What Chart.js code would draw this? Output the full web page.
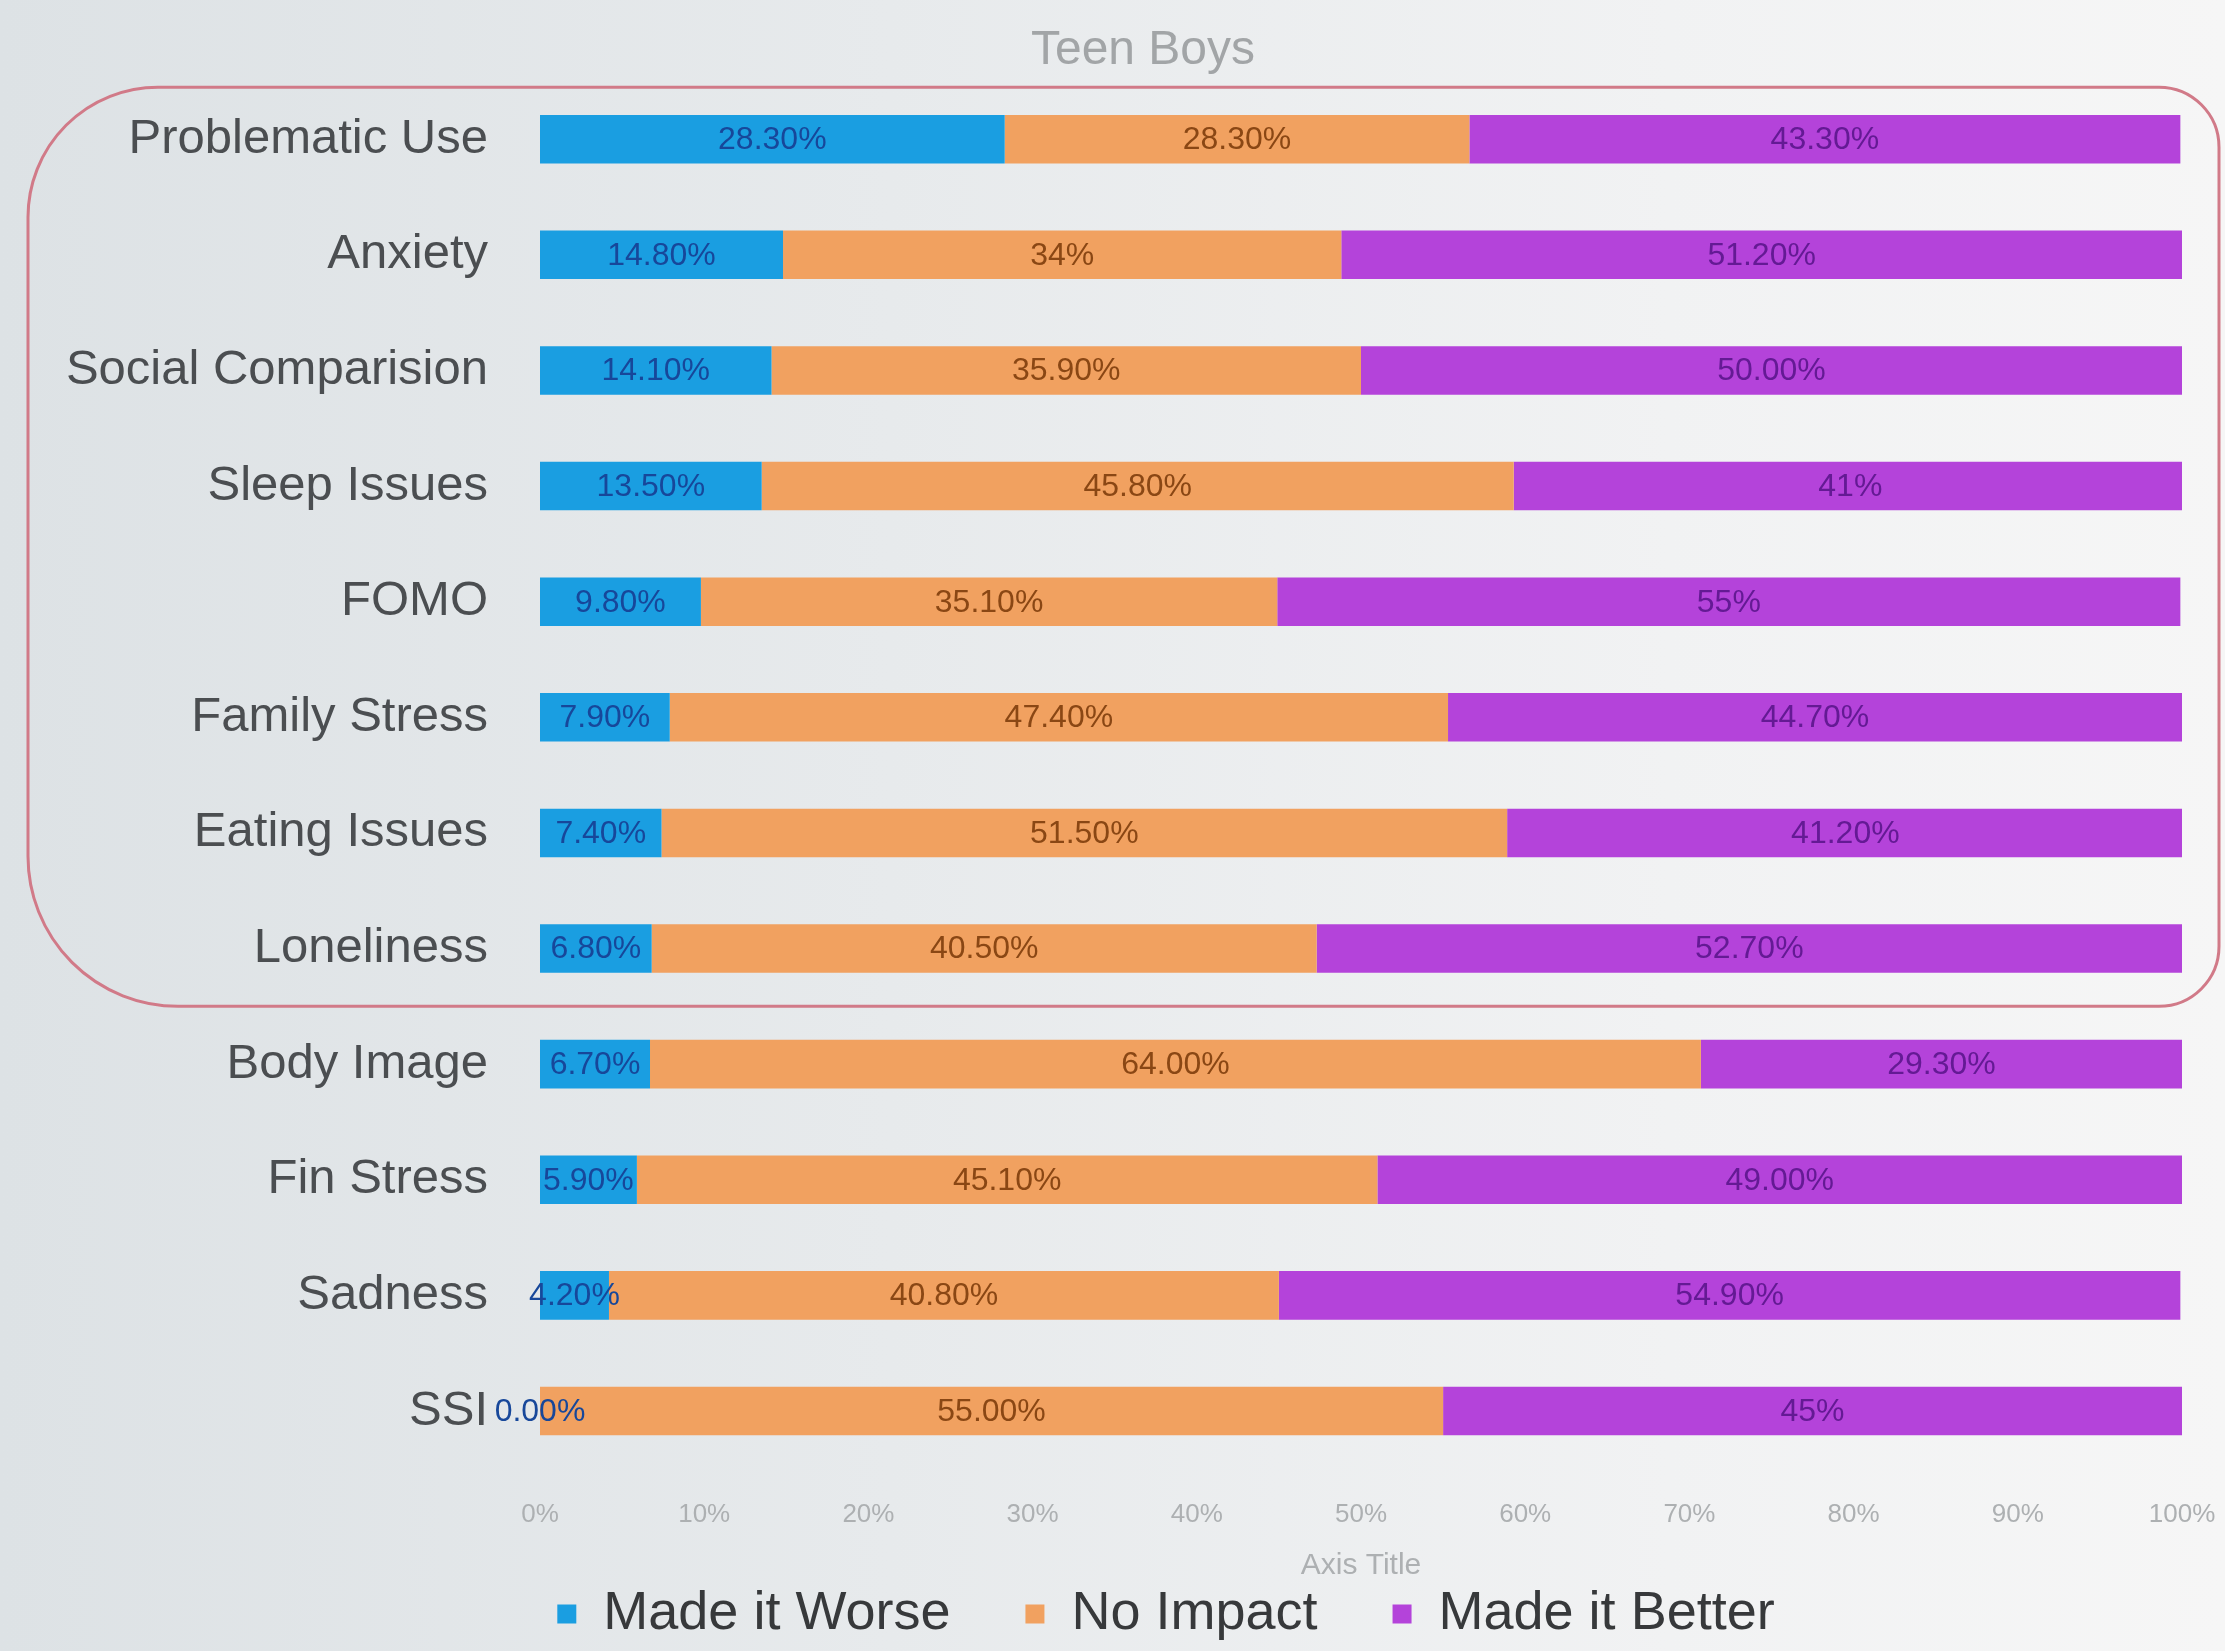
<!DOCTYPE html>
<html>
<head>
<meta charset="utf-8">
<script src="https://cdn.jsdelivr.net/npm/chart.js@4/dist/chart.umd.min.js"></script>
<style>
  html, body { margin: 0; padding: 0; }
  body { width: 2225px; height: 1651px; background: linear-gradient(90deg, #dde2e5 0%, #e7eaec 40%, #f1f2f3 75%, #f6f6f6 100%); overflow: hidden; }
  #c { display: block; }
</style>
</head>
<body>
<canvas id="c" width="2225" height="1651"></canvas>
<script>
const categories = ["Problematic Use", "Anxiety", "Social Comparision", "Sleep Issues", "FOMO", "Family Stress", "Eating Issues", "Loneliness", "Body Image", "Fin Stress", "Sadness", "SSI"];
const madeWorse  = [28.3, 14.8, 14.1, 13.5, 9.8, 7.9, 7.4, 6.8, 6.7, 5.9, 4.2, 0.0];
const noImpact   = [28.3, 34.0, 35.9, 45.8, 35.1, 47.4, 51.5, 40.5, 64.0, 45.1, 40.8, 55.0];
const madeBetter = [43.3, 51.2, 50.0, 41.0, 55.0, 44.7, 41.2, 52.7, 29.3, 49.0, 54.9, 45.0];
const labelsWorse  = ["28.30%", "14.80%", "14.10%", "13.50%", "9.80%", "7.90%", "7.40%", "6.80%", "6.70%", "5.90%", "4.20%", "0.00%"];
const labelsNone   = ["28.30%", "34%", "35.90%", "45.80%", "35.10%", "47.40%", "51.50%", "40.50%", "64.00%", "45.10%", "40.80%", "55.00%"];
const labelsBetter = ["43.30%", "51.20%", "50.00%", "41%", "55%", "44.70%", "41.20%", "52.70%", "29.30%", "49.00%", "54.90%", "45%"];
const xTicks = [0, 10, 20, 30, 40, 50, 60, 70, 80, 90, 100];
const seriesNames = ["Made it Worse", "No Impact", "Made it Better"];
const highlightedCount = 8;

const FONT = "'Liberation Sans', 'Helvetica Neue', Arial, sans-serif";

const dataLabelPlugin = {
  id: 'dataLabels',
  afterDatasetsDraw(chart) {
    const ctx = chart.ctx;
    ctx.save();
    ctx.font = "32px " + FONT;
    ctx.textAlign = 'center';
    ctx.textBaseline = 'middle';
    chart.data.datasets.forEach((ds, di) => {
      const meta = chart.getDatasetMeta(di);
      meta.data.forEach((el, i) => {
        const cx = (el.x + el.base) / 2;
        ctx.fillStyle = ds.labelColor;
        ctx.fillText(ds.valueLabels[i], cx, el.y + 1);
      });
    });
    ctx.restore();
  }
};

const highlightPlugin = {
  id: 'highlightBox',
  afterDraw(chart) {
    const y = chart.scales.y;
    const ctx = chart.ctx;
    const step = y.getPixelForValue(1) - y.getPixelForValue(0);
    const top = y.getPixelForValue(0) - step * 0.45;
    const bottom = (y.getPixelForValue(highlightedCount - 1) + y.getPixelForValue(highlightedCount)) / 2;
    const left = 28;
    const right = chart.width - 6;
    ctx.save();
    ctx.strokeStyle = '#d17a88';
    ctx.lineWidth = 3;
    ctx.beginPath();
    ctx.roundRect(left, top, right - left, bottom - top, [130, 60, 60, 150]);
    ctx.stroke();
    ctx.restore();
  }
};

// shift the centred title and legend blocks slightly right, as in the reference
const offsetPlugin = {
  id: 'blockOffset',
  afterLayout(chart) {
    [[chart.titleBlock, 32], [chart.legend, 55]].forEach(([b, d]) => {
      if (b) { b.left += d; b.right += d; }
    });
  }
};

new Chart(document.getElementById('c'), {
  type: 'bar',
  data: {
    labels: categories,
    datasets: [
      { label: seriesNames[0], data: madeWorse, backgroundColor: '#1a9ee1', labelColor: '#17479a', valueLabels: labelsWorse },
      { label: seriesNames[1], data: noImpact, backgroundColor: '#f1a160', labelColor: '#8a4714', valueLabels: labelsNone },
      { label: seriesNames[2], data: madeBetter, backgroundColor: '#b443da', labelColor: '#641a94', valueLabels: labelsBetter }
    ]
  },
  options: {
    indexAxis: 'y',
    responsive: false,
    animation: false,
    events: [],
    layout: { padding: { top: 5, right: 43, bottom: 0, left: 40 } },
    datasets: { bar: { barPercentage: 0.42, categoryPercentage: 1.0 } },
    scales: {
      x: {
        stacked: true,
        min: 0,
        max: 100,
        afterBuildTicks(scale) { scale.ticks = xTicks.map(v => ({ value: v })); },
        afterFit(scale) { scale.paddingLeft = 0; scale.paddingRight = 0; },
        ticks: { callback: v => v + '%', color: '#adb0b2', font: { family: FONT, size: 26 }, padding: 30, maxRotation: 0 },
        grid: { display: false, drawTicks: false },
        border: { display: false },
        title: { display: true, text: 'Axis Title', color: '#adb0b2', font: { family: FONT, size: 30 }, padding: { top: -12, bottom: 3 } }
      },
      y: {
        stacked: true,
        afterFit(scale) { scale.width = 500; },
        ticks: { color: '#4b4e51', font: { family: FONT, size: 49 }, padding: 52 },
        grid: { display: false, drawTicks: false },
        border: { display: false }
      }
    },
    plugins: {
      title: { display: true, text: 'Teen Boys', color: '#a2a5a7', font: { family: FONT, size: 48, weight: 'normal' }, padding: { top: 0, bottom: 2 } },
      legend: {
        position: 'bottom',
        labels: {
          color: '#37393b', font: { family: FONT, size: 54 }, boxWidth: 19, boxHeight: 19, padding: 0,
          generateLabels(chart) {
            const items = Chart.defaults.plugins.legend.labels.generateLabels(chart);
            items.forEach((it, i) => { if (i < items.length - 1) it.text = it.text + '\u00a0\u00a0\u00a0\u00a0\u00a0'; });
            return items;
          }
        }
      },
      tooltip: { enabled: false }
    }
  },
  plugins: [dataLabelPlugin, highlightPlugin, offsetPlugin]
});
</script>
</body>
</html>
